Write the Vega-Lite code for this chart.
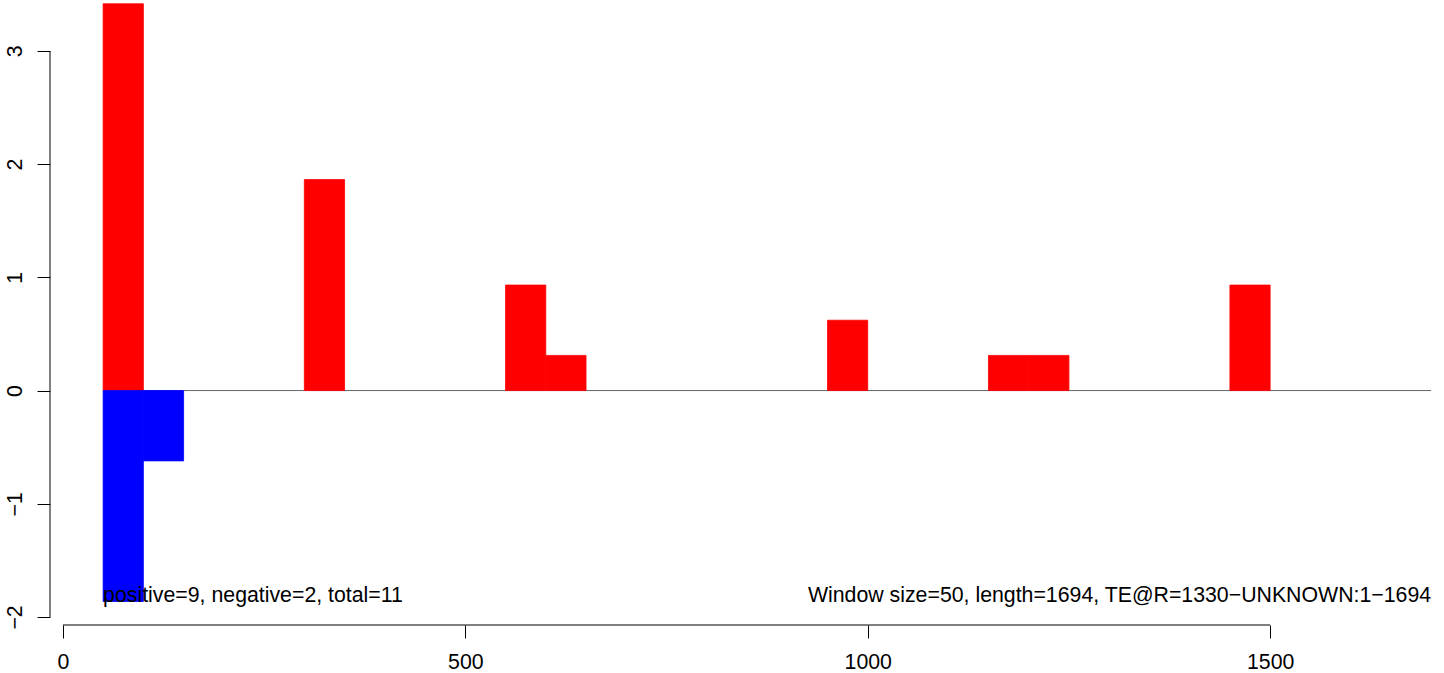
{
  "$schema": "https://vega.github.io/schema/vega-lite/v6.json",
  "autosize": "none",
  "padding": {"left": 50, "top": 0, "right": 0, "bottom": 48},
  "width": 1394,
  "height": 625,
  "background": "white",
  "config": {
    "view": {"stroke": null},
    "font": "Liberation Sans",
    "axis": {"grid": false, "domain": false, "tickColor": "black", "tickWidth": 1, "tickSize": 13, "labelColor": "black", "labelFont": "Liberation Sans", "labelFontSize": 21.3, "labelOverlap": false, "labelFlush": false, "labelBound": false, "title": null, "format": "d"}
  },
  "layer": [
    {
      "data": {"values": [{"from": 50, "to": 1700, "level": 0}]},
      "mark": {"type": "rule", "color": "#666666", "strokeWidth": 1},
      "encoding": {
        "x": {"field": "from", "type": "quantitative", "scale": {"domain": [-16, 1716], "nice": false, "zero": false},
              "axis": {"values": [0, 500, 1000, 1500], "format": "d", "labelPadding": 13.5, "labelAngle": 0, "labelAlign": "center", "labelBaseline": "top"}},
        "x2": {"field": "to"},
        "y": {"field": "level", "type": "quantitative", "scale": {"domain": [-2.071, 3.45], "nice": false, "zero": false},
              "axis": {"values": [-2, -1, 0, 1, 2, 3], "format": "d", "labelAngle": 270, "labelAlign": "center", "labelBaseline": "alphabetic", "labelPadding": 16}}
      }
    },
    {
      "data": {"values": [
        {"start": 50, "end": 100, "value": 3.4166, "sign": "positive"},
        {"start": 50, "end": 100, "value": -1.8636, "sign": "negative"},
        {"start": 100, "end": 150, "value": -0.6212, "sign": "negative"},
        {"start": 300, "end": 350, "value": 1.8636, "sign": "positive"},
        {"start": 550, "end": 600, "value": 0.9318, "sign": "positive"},
        {"start": 600, "end": 650, "value": 0.3106, "sign": "positive"},
        {"start": 950, "end": 1000, "value": 0.6212, "sign": "positive"},
        {"start": 1150, "end": 1200, "value": 0.3106, "sign": "positive"},
        {"start": 1200, "end": 1250, "value": 0.3106, "sign": "positive"},
        {"start": 1450, "end": 1500, "value": 0.9318, "sign": "positive"}
      ]},
      "mark": {"type": "bar", "strokeWidth": 0.8},
      "encoding": {
        "x": {"field": "start", "type": "quantitative"},
        "x2": {"field": "end"},
        "y": {"field": "value", "type": "quantitative", "stack": null},
        "y2": {"datum": 0},
        "color": {"field": "sign", "type": "nominal", "scale": {"domain": ["positive", "negative"], "range": ["#FF0000", "#0000FF"]}, "legend": null},
        "stroke": {"field": "sign", "type": "nominal", "scale": {"domain": ["positive", "negative"], "range": ["#FF0000", "#0000FF"]}, "legend": null}
      }
    },
    {
      "data": {"values": [{"x": 50, "y": -1.8636, "label": "positive=9, negative=2, total=11"}]},
      "mark": {"type": "text", "align": "left", "baseline": "alphabetic", "fontSize": 21.3, "font": "Liberation Sans", "color": "black"},
      "encoding": {
        "x": {"field": "x", "type": "quantitative"},
        "y": {"field": "y", "type": "quantitative"},
        "text": {"field": "label"}
      }
    },
    {
      "data": {"values": [{"x": 1700, "y": -1.8636, "label": "Window size=50, length=1694, TE@R=1330−UNKNOWN:1−1694"}]},
      "mark": {"type": "text", "align": "right", "baseline": "alphabetic", "fontSize": 21.3, "font": "Liberation Sans", "color": "black"},
      "encoding": {
        "x": {"field": "x", "type": "quantitative"},
        "y": {"field": "y", "type": "quantitative"},
        "text": {"field": "label"}
      }
    },
    {
      "data": {"values": [{}]},
      "mark": {"type": "rule", "color": "black", "strokeWidth": 1},
      "encoding": {
        "x": {"datum": 0},
        "x2": {"datum": 1500},
        "y": {"datum": -2.071}
      }
    },
    {
      "data": {"values": [{}]},
      "mark": {"type": "rule", "color": "black", "strokeWidth": 1},
      "encoding": {
        "x": {"datum": -16},
        "y": {"datum": -2},
        "y2": {"datum": 3}
      }
    }
  ]
}
